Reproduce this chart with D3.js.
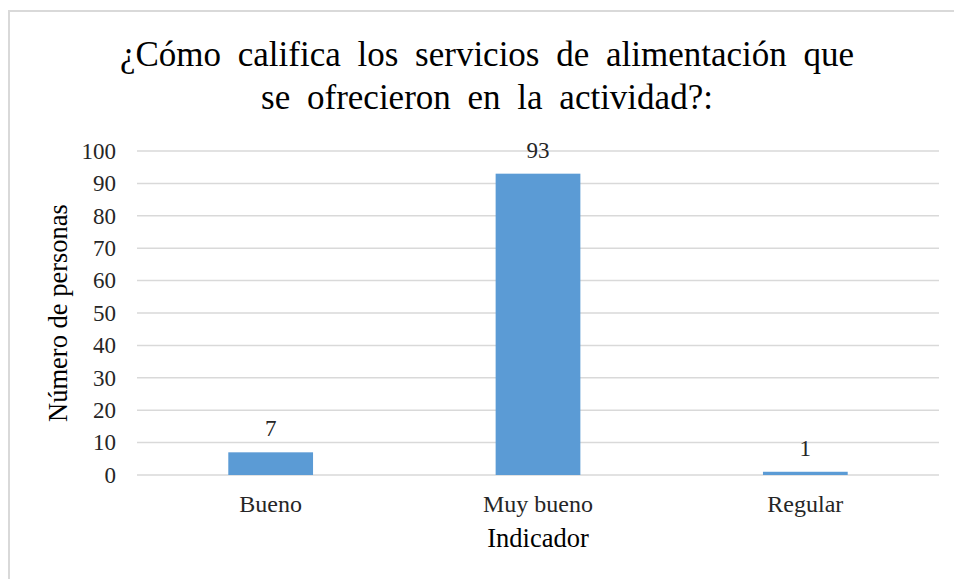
<!DOCTYPE html>
<html>
<head>
<meta charset="utf-8">
<script src="https://cdn.jsdelivr.net/npm/d3@7"></script>
<style>
  body { margin: 0; background: #fff; }
  svg text { font-family: "Times New Roman", "Liberation Serif", "DejaVu Serif", serif; }
</style>
</head>
<body>
<script>
const categories = ['Bueno', 'Muy bueno', 'Regular'];
const values = [7, 93, 1];
const yTicks = [0, 10, 20, 30, 40, 50, 60, 70, 80, 90, 100];
const titleLines = ['¿Cómo califica los servicios de alimentación que', 'se ofrecieron en la actividad?:'];
const xTitle = 'Indicador';
const yTitle = 'Número de personas';

const width = 954;
const height = 579;
const margin = { top: 151, right: 15, bottom: 104, left: 137 };
const barColor = '#5B9BD5';
const gridColor = '#d9d9d9';
const labelColor = '#262626';

const svg = d3.select('body')
  .append('svg')
  .attr('width', width)
  .attr('height', height)
  .style('display', 'block');

// outer chart frame, cut by the right and bottom page edges
svg.append('rect')
  .attr('x', 9)
  .attr('y', 11)
  .attr('width', width + 20)
  .attr('height', height + 20)
  .attr('fill', 'none')
  .attr('stroke', gridColor)
  .attr('stroke-width', 2);

const x = d3.scaleBand()
  .domain(categories)
  .range([margin.left, width - margin.right])
  .padding(0);

const y = d3.scaleLinear()
  .domain([0, 100])
  .range([height - margin.bottom, margin.top]);

const barWidth = x.bandwidth() * 0.317;

// gridlines
svg.append('g')
  .selectAll('line')
  .data(yTicks)
  .enter()
  .append('line')
  .attr('x1', margin.left)
  .attr('x2', width - margin.right)
  .attr('y1', d => y(d))
  .attr('y2', d => y(d))
  .attr('stroke', gridColor)
  .attr('stroke-width', 1.5);

// y axis labels
svg.append('g')
  .attr('transform', `translate(${margin.left}, 0)`)
  .call(d3.axisLeft(y).tickValues(yTicks).tickSize(0).tickPadding(21))
  .call(g => g.select('.domain').remove())
  .call(g => g.selectAll('text')
    .attr('font-size', 23)
    .attr('fill', labelColor));

// x axis labels
svg.append('g')
  .attr('transform', `translate(0, ${height - margin.bottom})`)
  .call(d3.axisBottom(x).tickSize(0).tickPadding(20))
  .call(g => g.select('.domain').remove())
  .call(g => g.selectAll('text')
    .attr('font-size', 24)
    .attr('fill', labelColor));

// bars
svg.selectAll('.bar')
  .data(values)
  .enter()
  .append('rect')
  .attr('class', 'bar')
  .attr('x', (d, i) => x(categories[i]) + x.bandwidth() / 2 - barWidth / 2)
  .attr('y', d => y(d))
  .attr('width', barWidth)
  .attr('height', d => y(0) - y(d))
  .attr('fill', barColor);

// value labels
svg.selectAll('.value')
  .data(values)
  .enter()
  .append('text')
  .attr('class', 'value')
  .attr('x', (d, i) => x(categories[i]) + x.bandwidth() / 2)
  .attr('y', d => y(d) - 16)
  .attr('text-anchor', 'middle')
  .attr('font-size', 23)
  .attr('fill', labelColor)
  .text(d => d);

// title
svg.append('g')
  .selectAll('text')
  .data(titleLines)
  .enter()
  .append('text')
  .attr('x', 487)
  .attr('y', (d, i) => 66 + i * 43)
  .attr('text-anchor', 'middle')
  .attr('font-size', 35)
  .attr('word-spacing', 8)
  .attr('fill', '#000')
  .text(d => d);

// axis titles
svg.append('text')
  .attr('x', x.range()[0] + (x.range()[1] - x.range()[0]) / 2)
  .attr('y', 547)
  .attr('text-anchor', 'middle')
  .attr('font-size', 26.5)
  .attr('fill', '#000')
  .text(xTitle);

svg.append('text')
  .attr('transform', `translate(67, ${y(50)}) rotate(-90)`)
  .attr('text-anchor', 'middle')
  .attr('font-size', 26.5)
  .attr('fill', '#000')
  .text(yTitle);
</script>
</body>
</html>
